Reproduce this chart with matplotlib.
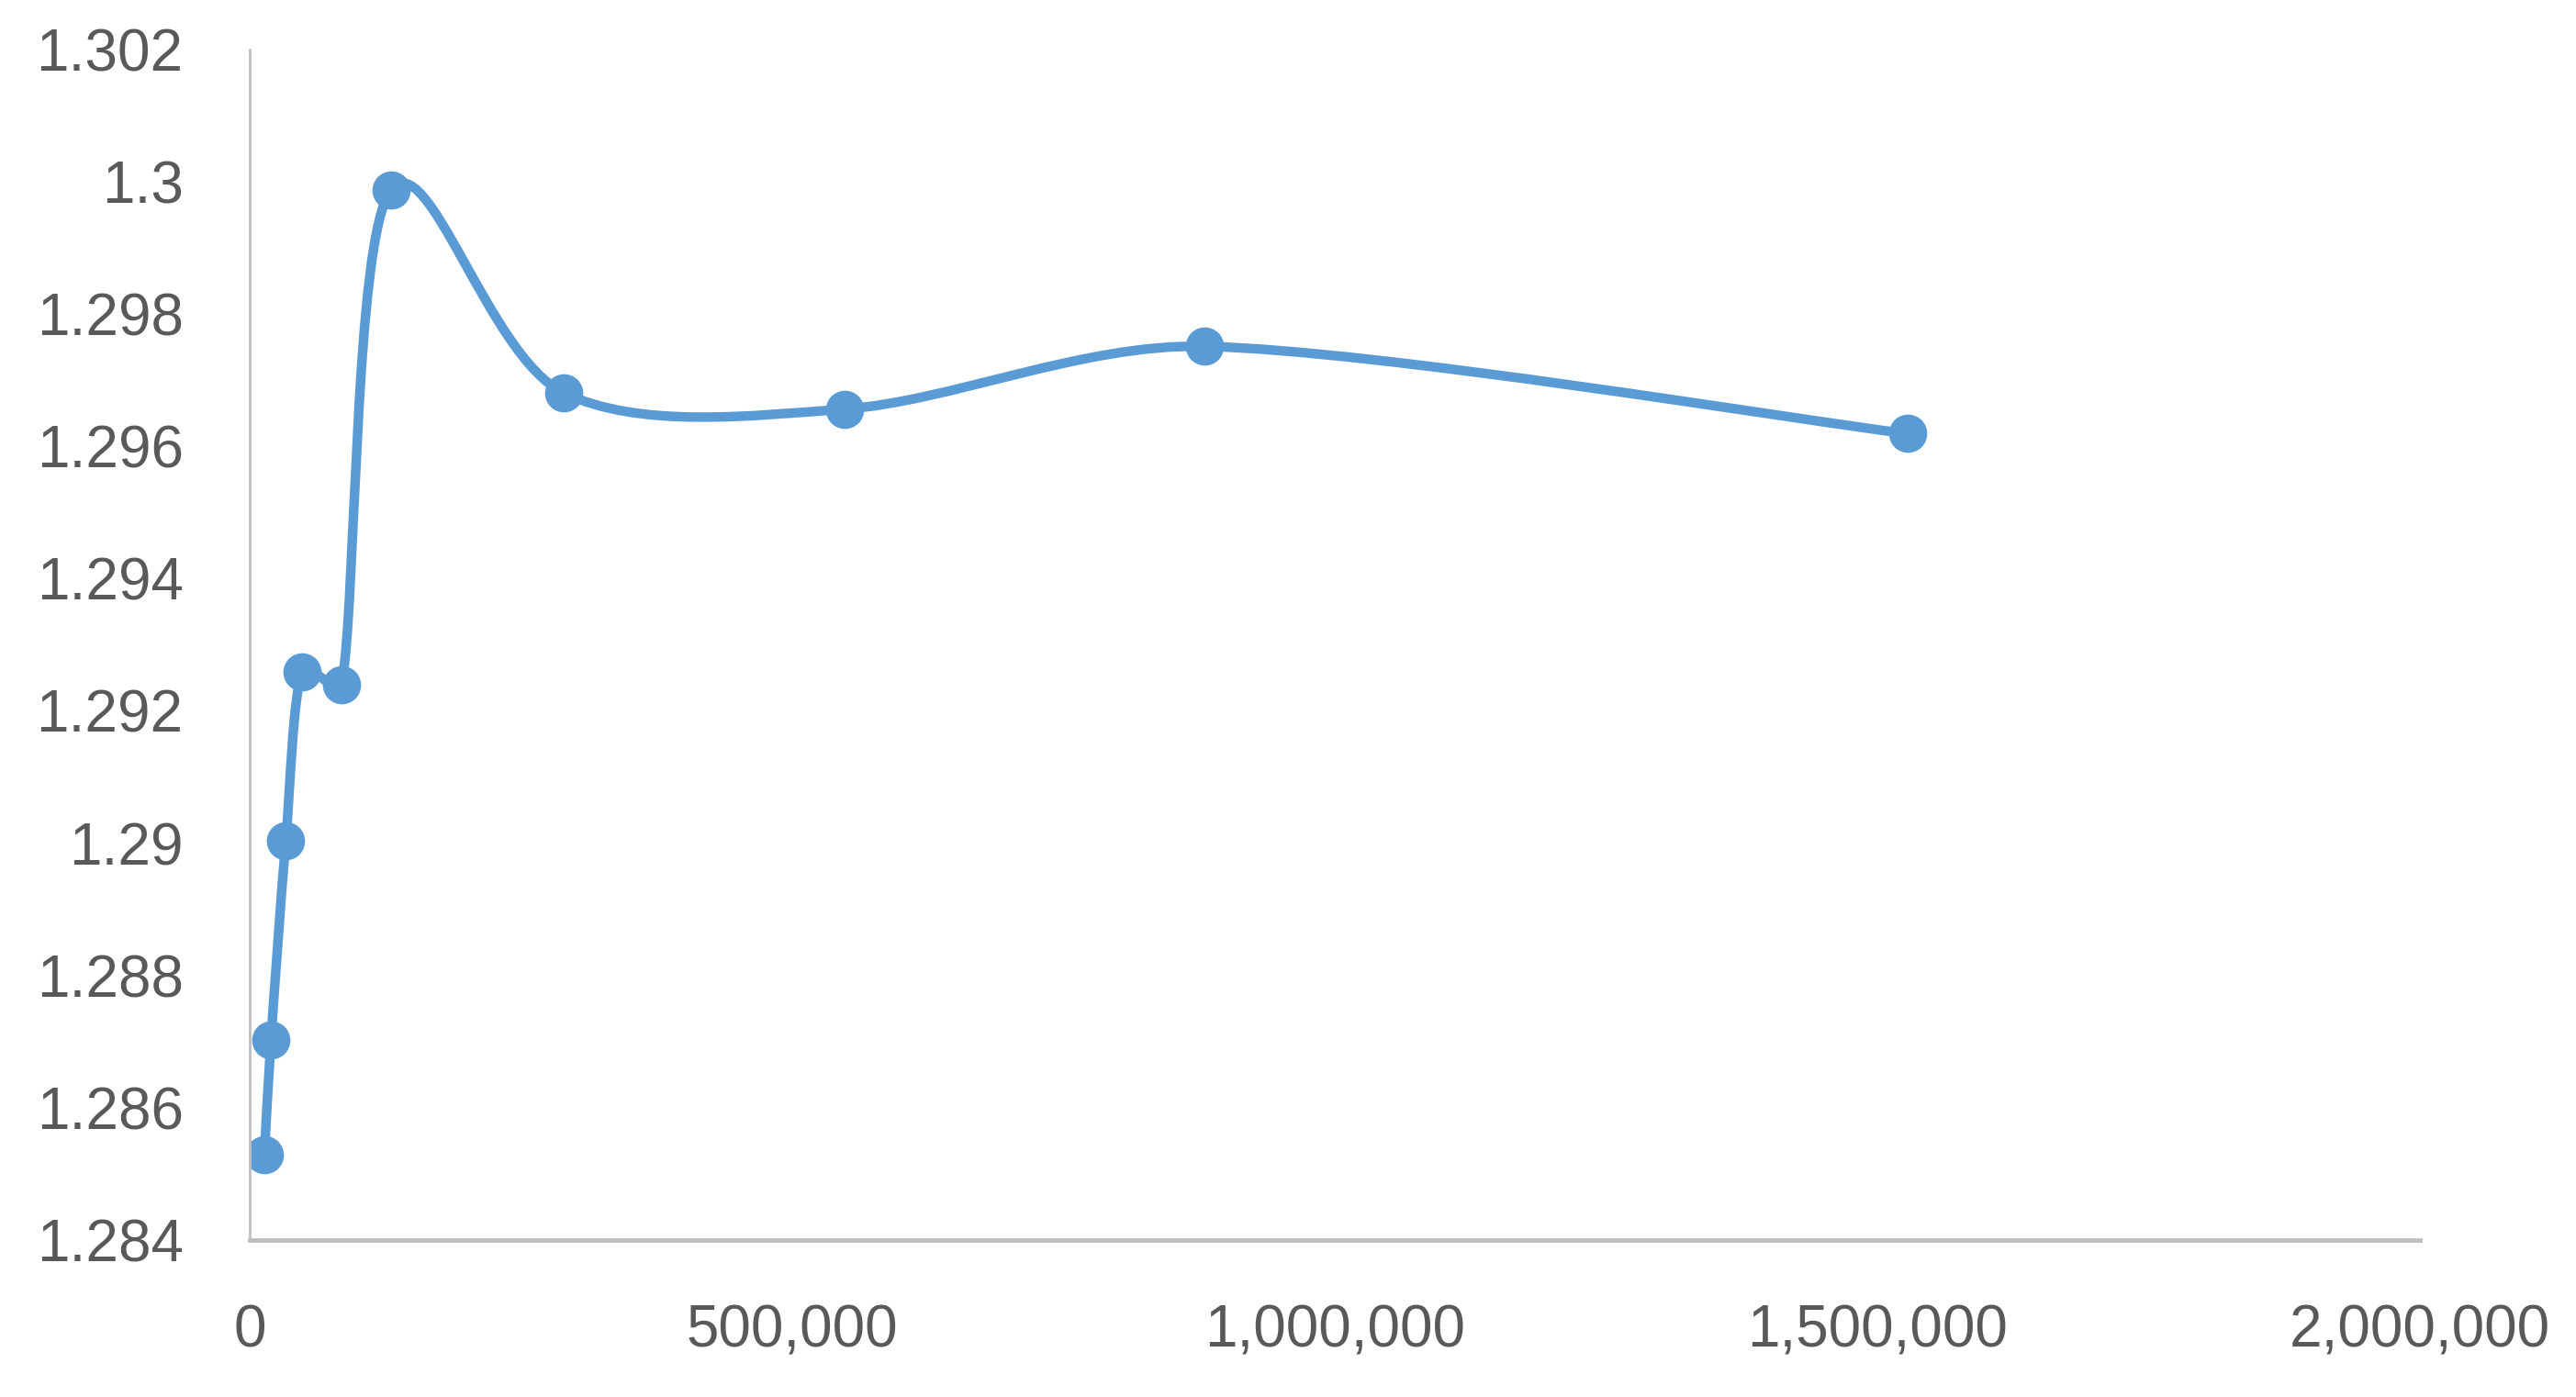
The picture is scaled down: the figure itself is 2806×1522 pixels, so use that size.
import numpy as np
import matplotlib.pyplot as plt
from matplotlib.path import Path
from matplotlib.patches import PathPatch
from matplotlib.ticker import FuncFormatter

# %% Style
LINE_COLOR = "#5B9BD5"
AXIS_COLOR = "#BFBFBF"
TEXT_COLOR = "#595959"
FONT_SIZE = 46

plt.rcParams.update(
    {
        "font.family": ["Liberation Sans", "DejaVu Sans"],
        "font.size": FONT_SIZE,
        "xtick.color": TEXT_COLOR,
        "ytick.color": TEXT_COLOR,
    }
)

# %% Data
x_vals = [13600, 19700, 33300, 48400, 84800, 130200, 289200, 548000, 879600, 1527600]
y_vals = [1.28529, 1.28703, 1.29003, 1.29259, 1.29239, 1.29987, 1.29681, 1.29656, 1.29751, 1.29619]
x_ticks = [0, 500000, 1000000, 1500000, 2000000]
y_ticks = [1.284, 1.286, 1.288, 1.290, 1.292, 1.294, 1.296, 1.298, 1.300, 1.302]


# %% Smoothed line (spreadsheet-like Bezier smoothing, worked out in screen units)
def smooth_path(xs, ys, sx, sy):
    pts = np.column_stack([np.asarray(xs) * sx, np.asarray(ys) * sy])
    n = len(pts)
    verts = [pts[0]]
    codes = [Path.MOVETO]

    def clamp(v, limit):
        d = np.hypot(*v)
        return v * (limit / d) if d > limit else v

    for i in range(n - 1):
        p0 = pts[i - 1] if i > 0 else pts[i]
        p1 = pts[i]
        p2 = pts[i + 1]
        p3 = pts[i + 2] if i + 2 < n else pts[i + 1]
        seg = np.hypot(*(p2 - p1))
        c1 = p1 + clamp((p2 - p0) / 6.0, seg / 3.0)
        c2 = p2 - clamp((p3 - p1) / 6.0, seg / 3.0)
        verts += [c1, c2, p2]
        codes += [Path.CURVE4] * 3
    verts = np.array(verts) / [sx, sy]
    return Path(verts, codes)


# %% Plot
fig = plt.figure(figsize=(28.06, 15.22), dpi=100)
ax = fig.add_axes([0.0969, 0.1124, 0.8425, 0.8523])

ax.set_xlim(0, 2000000)
ax.set_ylim(1.284, 1.302)

# pixel per data unit, so smoothing follows what is seen on screen
sx = 0.8425 * 2806 / 2000000
sy = 0.8523 * 1522 / 0.018

ax.add_patch(
    PathPatch(
        smooth_path(x_vals, y_vals, sx, sy),
        facecolor="none",
        edgecolor=LINE_COLOR,
        linewidth=7.5,
        capstyle="round",
        joinstyle="round",
    )
)
ax.plot(x_vals, y_vals, linestyle="none", marker="o", markersize=30,
        color=LINE_COLOR, markeredgewidth=0)

ax.set_xticks(x_ticks)
ax.set_yticks(y_ticks)
ax.xaxis.set_major_formatter(FuncFormatter(lambda v, p: f"{int(v):,}"))
ax.yaxis.set_major_formatter(FuncFormatter(lambda v, p: f"{v:.3f}".rstrip("0").rstrip(".")))
ax.tick_params(axis="x", length=0, pad=50)
ax.tick_params(axis="y", length=0, pad=52)

for side in ["top", "right"]:
    ax.spines[side].set_visible(False)
ax.spines["left"].set_color(AXIS_COLOR)
ax.spines["left"].set_linewidth(2)
ax.spines["bottom"].set_color(AXIS_COLOR)
ax.spines["bottom"].set_linewidth(3.5)

fig.savefig("out.png", dpi=100)
